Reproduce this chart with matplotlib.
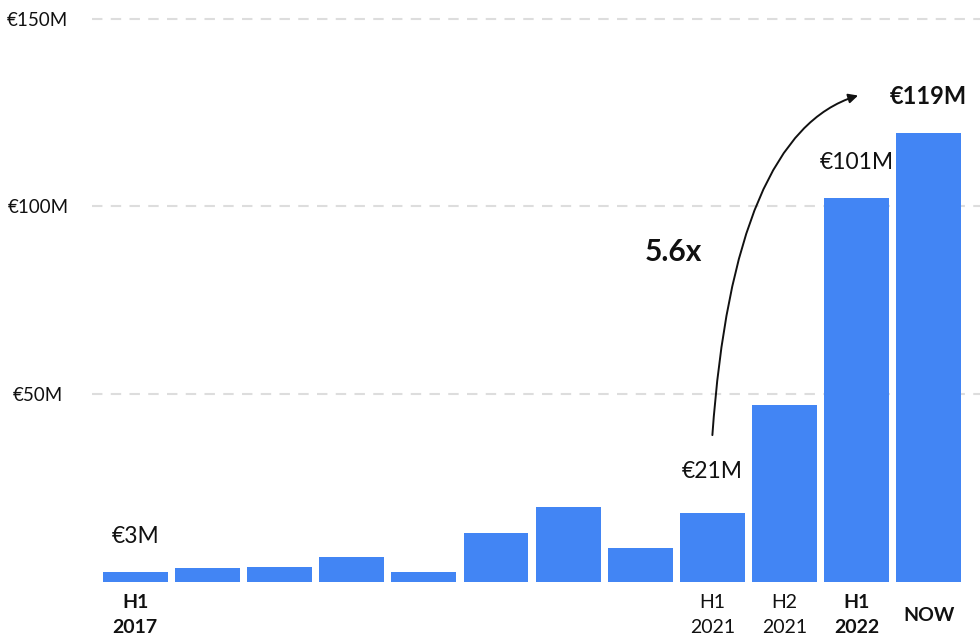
"""Revenue growth bar chart with 5.6x arrow annotation."""

import matplotlib

matplotlib.use("Agg")
import matplotlib.pyplot as plt
from matplotlib.patches import FancyArrowPatch
from matplotlib.transforms import blended_transform_factory

plt.rcParams["font.family"] = ["Lato", "DejaVu Sans"]

# values in millions EUR, one per half-year period
values = [2.7, 3.7, 4.0, 6.6, 2.7, 13.0, 19.9, 9.0, 18.4, 47.1, 102.2, 119.5]
# period labels (empty = unlabelled bar)
periods = ["H1\n2017", "", "", "", "", "", "", "", "H1\n2021", "H2\n2021", "H1\n2022", "NOW"]
period_bold = [True, False, False, False, False, False, False, False, False, False, True, True]
# value callouts above some bars
callout_idx = [0, 8, 10, 11]
callout_txt = ["€3M", "€21M", "€101M", "€119M"]
callout_bold = [False, False, False, True]
y_ticks = [50, 100, 150]
y_ticklabels = ["€50M", "€100M", "€150M"]
growth_label = "5.6x"

BLUE = "#4285F4"
INK = "#111111"

fig = plt.figure(figsize=(9.8, 6.36), dpi=100)
# 0 at y=582px, 150 at y=18.5px
ax = fig.add_axes([92 / 980, 1 - 582 / 636, 888 / 980, (582 - 11) / 636])
x = list(range(len(values)))
ax.bar(x, values, width=0.9, color=BLUE, zorder=2)
ax.set_xlim(-0.6, 11.71)
ax.set_ylim(0, 152)

for s in ax.spines.values():
    s.set_visible(False)
ax.set_yticks(y_ticks, y_ticklabels)
ax.tick_params(axis="y", length=0, pad=39, labelsize=13.5, labelcolor=INK)
for lab in ax.get_yticklabels():
    lab.set_horizontalalignment("center")
ax.set_xticks([])
ax.grid(axis="y", color="#dddddd", lw=1.5, ls=(0, (5, 4)), zorder=0)

trans = blended_transform_factory(ax.transData, ax.transAxes)
for i, (lab, b) in enumerate(zip(periods, period_bold)):
    if lab:
        ax.text(i, -0.058, lab, transform=trans, ha="center", va="center",
                fontsize=14, fontweight="bold" if b else "normal",
                color=INK, linespacing=1.55)

offsets = {0: 18, 8: 22, 10: 18, 11: 18}
for i, t, b in zip(callout_idx, callout_txt, callout_bold):
    ax.annotate(t, (i, values[i]), xytext=(0, offsets[i]), textcoords="offset points",
                ha="center", va="bottom", fontsize=17 if b else 16.5,
                fontweight="bold" if b else "normal", color=INK)

ax.text(7.455, 87.8, growth_label, ha="center", va="center", fontsize=21.5,
        fontweight="bold", color=INK)
arrow = FancyArrowPatch((8.0, 39.1), (10.02, 129.5),
                        connectionstyle="angle3,angleA=86,angleB=17",
                        arrowstyle="-|>", mutation_scale=14, lw=1.4, color=INK,
                        shrinkA=0, shrinkB=0, zorder=3)
ax.add_patch(arrow)

fig.savefig("out.png", dpi=100)
